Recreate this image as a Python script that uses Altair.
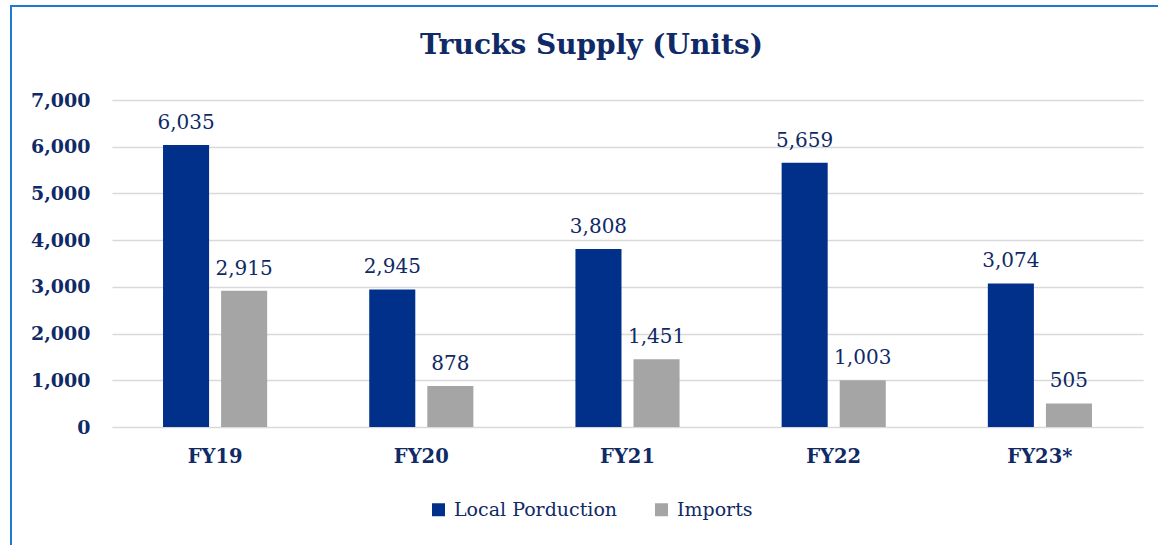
import altair as alt
import pandas as pd

years = ["FY19", "FY20", "FY21", "FY22", "FY23*"]
local_production = [6035, 2945, 3808, 5659, 3074]
imports = [2915, 878, 1451, 1003, 505]
series = ["Local Porduction", "Imports"]
colors = ["#00308A", "#A5A5A5"]

rows = []
for i, y in enumerate(years):
    rows.append({"year": y, "series": series[0], "value": local_production[i]})
    rows.append({"year": y, "series": series[1], "value": imports[i]})
df = pd.DataFrame(rows)

FONT = "DejaVu Serif"
TXT = "#0F2A66"

x = alt.X("year:N", sort=years, title=None,
          scale=alt.Scale(paddingInner=0.495, paddingOuter=0.2475),
          axis=alt.Axis(labelAngle=0, labelFont=FONT, labelFontWeight="bold",
                        labelFontSize=19.5, labelColor=TXT, ticks=False, domain=False,
                        grid=False, labelPadding=20))
xo = alt.XOffset("series:N", sort=series,
                 scale=alt.Scale(paddingInner=0.207, paddingOuter=0))
y = alt.Y("value:Q", title=None,
          scale=alt.Scale(domain=[0, 7000]),
          axis=alt.Axis(values=list(range(0, 7001, 1000)), format=",.0f", labelFont=FONT,
                        labelFontWeight="bold", labelFontSize=19, labelColor=TXT,
                        ticks=False, domain=False, labelPadding=22,
                        gridColor="#D9D9D9", gridWidth=1.5))

bars = alt.Chart(df).mark_bar().encode(
    x=x, xOffset=xo, y=y,
    color=alt.Color("series:N", sort=series,
                    scale=alt.Scale(domain=series, range=colors),
                    legend=alt.Legend(title=None, orient="none", direction="horizontal",
                                      legendX=317, legendY=400,
                                      symbolType="square", symbolSize=169,
                                      symbolStrokeWidth=0, labelLimit=0,
                                      labelFont=FONT, labelFontSize=19, labelColor=TXT,
                                      labelOffset=6, columnPadding=34)),
)

labels = alt.Chart(df).mark_text(font=FONT, fontSize=20, color=TXT, baseline="alphabetic",
                                 dy=-16).encode(
    x=x, xOffset=xo, y=y,
    text=alt.Text("value:Q", format=","),
)

chart = alt.layer(bars, labels).properties(
    width=1031, height=327,
    autosize=alt.AutoSizeParams(type="none"),
    padding={"left": 112, "top": 100, "right": 15, "bottom": 118},
    title=alt.TitleParams("Trucks Supply (Units)", font=FONT, fontSize=28,
                          fontWeight="bold", color=TXT, anchor="middle", dx=-36,
                          offset=31),
).configure(background="white", view=alt.ViewConfig(stroke=None))

chart.save("out.html", embed_options={"renderer": "svg", "actions": False})

with open("out.html") as f:
    html = f.read()
style = ("<style>body::before{content:'';position:fixed;left:10px;top:5px;"
         "right:-20px;bottom:-20px;border:2px solid #1F7BD1;pointer-events:none;"
         "z-index:10}</style>")
html = html.replace("</head>", style + "</head>", 1)
with open("out.html", "w") as f:
    f.write(html)
